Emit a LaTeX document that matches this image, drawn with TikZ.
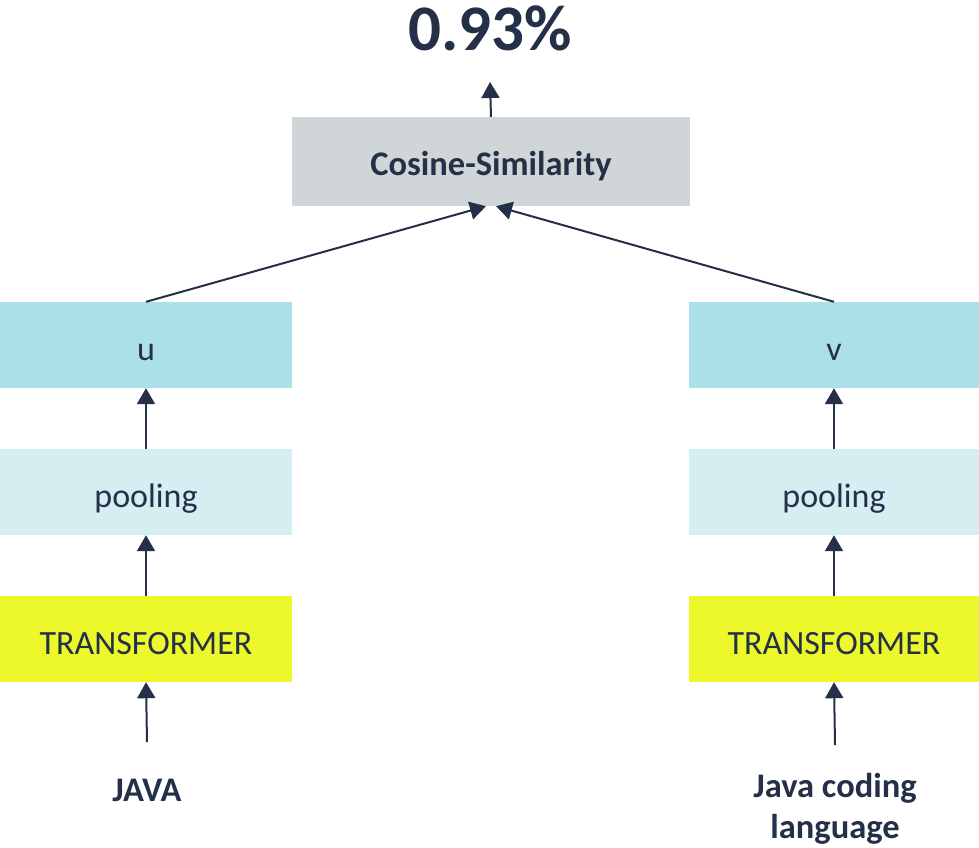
\documentclass[tikz,border=0pt]{standalone}
\usepackage{fontspec}
\setmainfont{Carlito}
\usetikzlibrary{arrows.meta}
\definecolor{ink}{HTML}{243047}
\definecolor{graybox}{HTML}{D0D5D8}
\definecolor{ubox}{HTML}{ABE0E8}
\definecolor{poolbox}{HTML}{D5EEF2}
\definecolor{trbox}{HTML}{ECF82A}
\tikzset{
  blk/.style={minimum width=292pt, minimum height=86pt, inner sep=0pt, text=ink, text height=30pt, text depth=0pt, font=\fontsize{34}{40}\selectfont},
  conn/.style={draw=ink, line width=2pt, -{Triangle[width=18pt,length=16pt]}},
  lbl/.style={text=ink, font=\fontsize{34.5}{41}\selectfont\bfseries, align=center},
}
\begin{document}
\begin{tikzpicture}[x=1pt,y=-1pt]
\useasboundingbox (0,0) rectangle (979,847);
\node[blk, fill=graybox, minimum width=398pt, minimum height=89pt, text height=27pt, font=\fontsize{34.5}{40}\selectfont\bfseries] (cos) at (491,161.5) {Cosine-Similarity};
\node[text=ink, font=\fontsize{65}{75}\selectfont\bfseries, inner sep=0pt] (res) at (490,28) {0.93\%};
\coordinate (restail) at (490,82);
\node[blk, fill=ubox] (u) at (146,345) {u};
\node[blk, fill=poolbox] (pl) at (146,492) {pooling};
\node[blk, fill=trbox] (tl) at (146,639) {TRANSFORMER};
\node[blk, fill=ubox, minimum width=290pt] (v) at (834,345) {v};
\node[blk, fill=poolbox, minimum width=290pt] (pr) at (834,492) {pooling};
\node[blk, fill=trbox, minimum width=290pt] (tr) at (834,639) {TRANSFORMER};
\node[lbl] (java) at (147,790) {JAVA};
\node[lbl] (jcl) at (835,809) {Java coding\\language};
\coordinate (jl) at (147,742);
\coordinate (jr) at (835,745);
\draw[conn] (cos.north) -- (restail);
\draw[conn] (u.north) -- ([xshift=-5pt]cos.south);
\draw[conn] (v.north) -- ([xshift=5pt]cos.south);
\draw[conn] (pl.north) -- (u.south);
\draw[conn] (tl.north) -- (pl.south);
\draw[conn] (jl) -- (tl.south);
\draw[conn] (pr.north) -- (v.south);
\draw[conn] (tr.north) -- (pr.south);
\draw[conn] (jr) -- (tr.south);
\end{tikzpicture}
\end{document}
